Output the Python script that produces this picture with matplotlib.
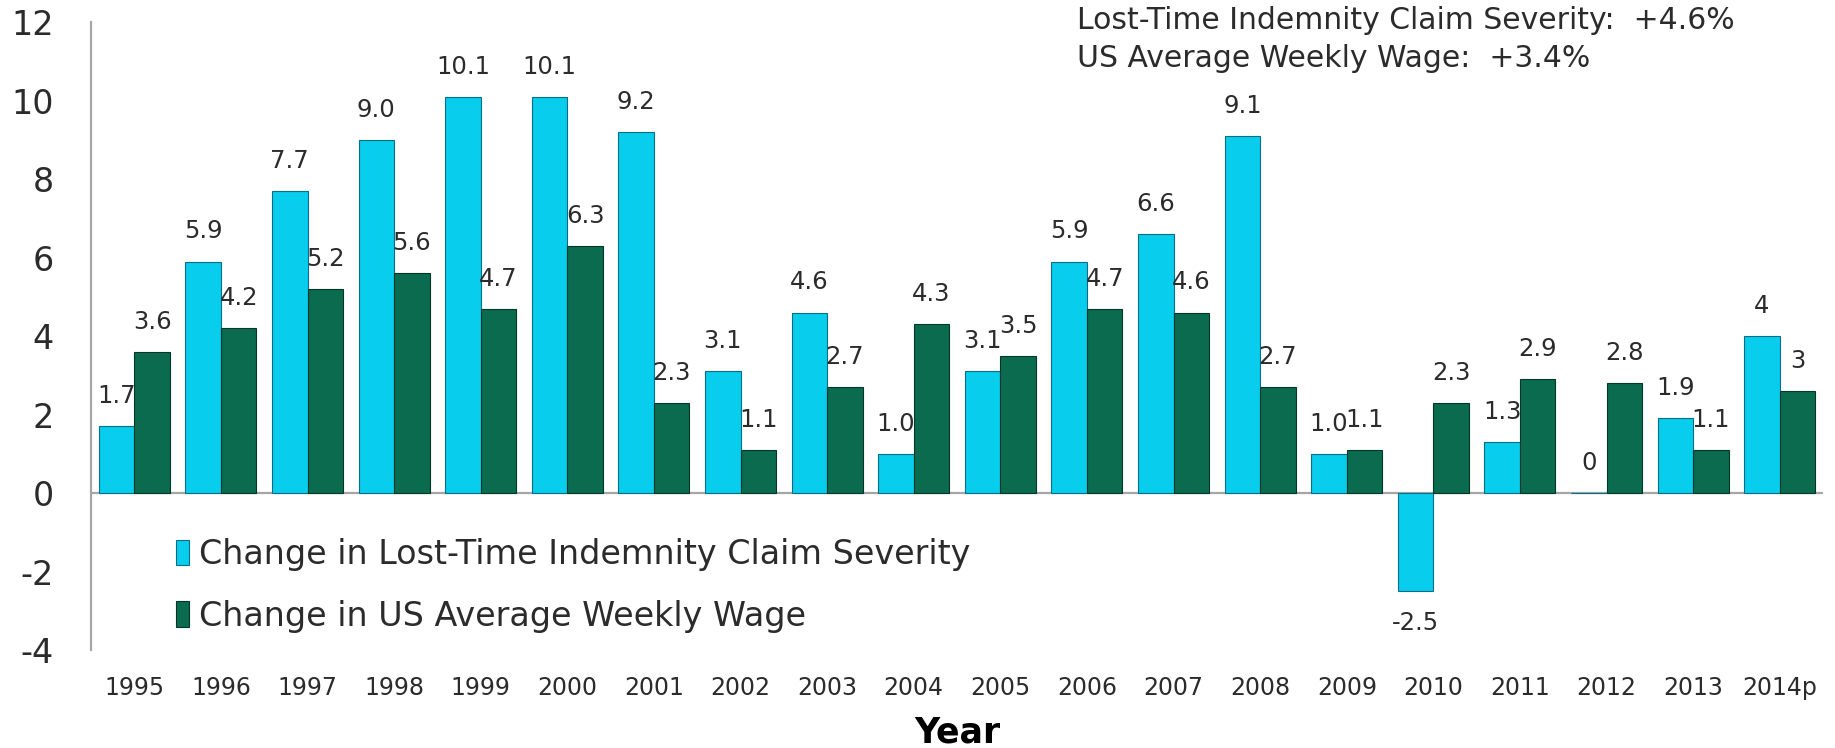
import matplotlib
matplotlib.use("Agg")
import matplotlib.pyplot as plt
import numpy as np

years = ["1995", "1996", "1997", "1998", "1999", "2000", "2001", "2002", "2003", "2004",
         "2005", "2006", "2007", "2008", "2009", "2010", "2011", "2012", "2013", "2014p"]
severity = [1.7, 5.9, 7.7, 9.0, 10.1, 10.1, 9.2, 3.1, 4.6, 1.0,
            3.1, 5.9, 6.6, 9.1, 1.0, -2.5, 1.3, 0.0, 1.9, 4.0]
wage = [3.6, 4.2, 5.2, 5.6, 4.7, 6.3, 2.3, 1.1, 2.7, 4.3,
        3.5, 4.7, 4.6, 2.7, 1.1, 2.3, 2.9, 2.8, 1.1, 2.6]
severity_labels = ["1.7", "5.9", "7.7", "9.0", "10.1", "10.1", "9.2", "3.1", "4.6", "1.0",
                   "3.1", "5.9", "6.6", "9.1", "1.0", "-2.5", "1.3", "0", "1.9", "4"]
wage_labels = ["3.6", "4.2", "5.2", "5.6", "4.7", "6.3", "2.3", "1.1", "2.7", "4.3",
               "3.5", "4.7", "4.6", "2.7", "1.1", "2.3", "2.9", "2.8", "1.1", "3"]
legend_names = ["Change in Lost-Time Indemnity Claim Severity", "Change in US Average Weekly Wage"]
note = "Lost-Time Indemnity Claim Severity:  +4.6%\nUS Average Weekly Wage:  +3.4%"

cyan = "#08CDEC"
green = "#0A6B4F"
txt = "#2b2b2b"

plt.rcParams['font.family'] = ['DejaVu Sans']
plt.rcParams['axes.unicode_minus'] = False

fig = plt.figure(figsize=(18.35, 7.48), dpi=100)
ax = fig.add_axes([0.0496, 0.131, 0.9439, 0.8394])

x = np.arange(len(years))
w = 0.41
ax.bar(x - w / 2, severity, w, color=cyan, edgecolor="#0a6f86", linewidth=0.8,
       label=legend_names[0], zorder=3)
ax.bar(x + w / 2, wage, w, color=green, edgecolor="#053626", linewidth=0.8,
       label=legend_names[1], zorder=3)

for xi, v, s in zip(x - w / 2, severity, severity_labels):
    off = 13 if v >= 0 else -14
    ax.annotate(s, (xi, v), xytext=(0, off), textcoords="offset points",
                ha="center", va="bottom" if v >= 0 else "top", fontsize=17.5, color=txt)
for xi, v, s in zip(x + w / 2, wage, wage_labels):
    ax.annotate(s, (xi, v), xytext=(0, 13), textcoords="offset points",
                ha="center", va="bottom", fontsize=17.5, color=txt)

ax.axhline(0, color="#a6a6a6", lw=1.6, zorder=2)
ax.set_xlim(-0.5, len(years) - 0.5)
ax.set_ylim(-4, 12)
ax.set_yticks(range(-4, 13, 2))
ax.set_xticks(x)
ax.set_xticklabels(years)
ax.tick_params(axis="y", length=0, pad=27, labelsize=24, labelcolor=txt)
ax.tick_params(axis="x", length=0, pad=19, labelsize=17, labelcolor=txt)
for s in ["top", "right", "bottom"]:
    ax.spines[s].set_visible(False)
ax.spines["left"].set_color("#a6a6a6")
ax.spines["left"].set_linewidth(1.6)

ax.set_xlabel("Year", fontsize=25, fontweight="bold", color="black", labelpad=11)

leg = ax.legend(loc="upper left", bbox_to_anchor=(0.049, 0.178), frameon=False,
                fontsize=24, handlelength=0.4, handleheight=0.8, handletextpad=0.3,
                labelspacing=0.85, borderpad=0, borderaxespad=0)
for t in leg.get_texts():
    t.set_color(txt)

fig.text(1077 / 1835, 1 - 6 / 748, note, ha="left", va="top", fontsize=21.5,
         color=txt, linespacing=1.4)

fig.savefig("out.png", dpi=100)
